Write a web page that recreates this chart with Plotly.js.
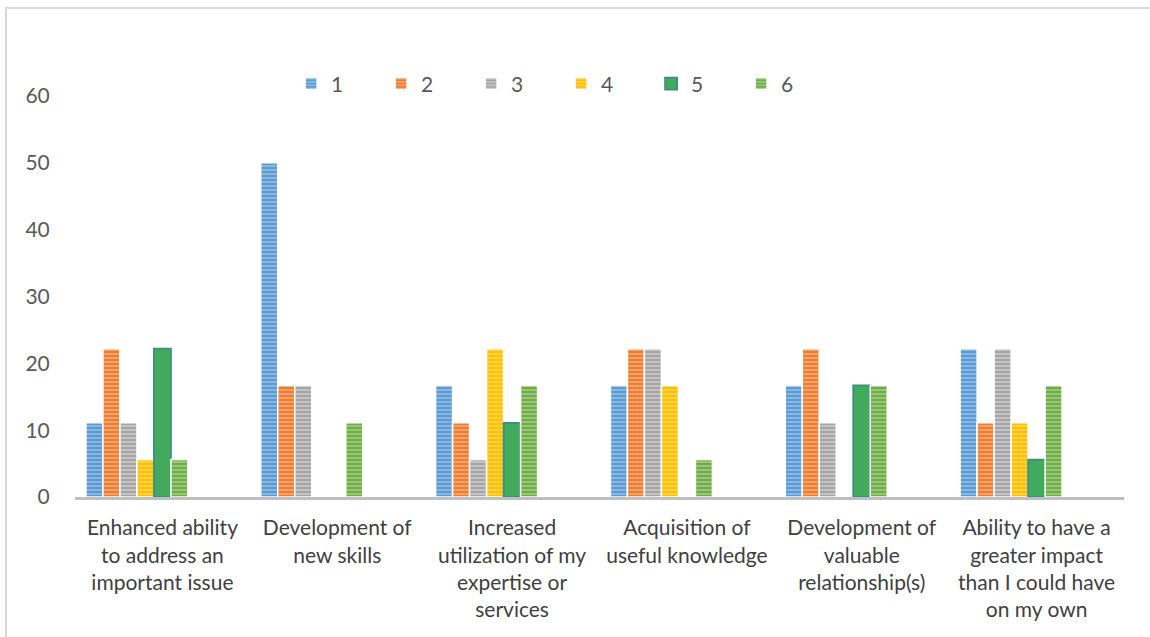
<!DOCTYPE html>
<html><head><meta charset="utf-8">
<script src="https://cdn.plot.ly/plotly-3.0.1.min.js"></script>
<style>
html,body{margin:0;padding:0;background:#fff;}
#wrap{position:relative;width:1150px;height:637px;overflow:hidden;}
#chart{width:1150px;height:637px;}
#frame{position:absolute;left:5px;top:7px;width:1160px;height:650px;border:2px solid #D9D9D9;pointer-events:none;}
</style></head>
<body><div id="wrap"><div id="chart"></div><div id="frame"></div></div>
<script>
const categories = [
  "Enhanced ability<br>to address an<br>important issue",
  "Development of<br>new skills",
  "Increased<br>utilization of my<br>expertise or<br>services",
  "Acquisition of<br>useful knowledge",
  "Development of<br>valuable<br>relationship(s)",
  "Ability to have a<br>greater impact<br>than I could have<br>on my own"
];
const seriesNames = ["1","2","3","4","5","6"];
const s1 = [11.1, 50.0, 16.7, 16.7, 16.7, 22.2];
const s2 = [22.2, 16.7, 11.1, 22.2, 22.2, 11.1];
const s3 = [11.1, 16.7,  5.6, 22.2, 11.1, 22.2];
const s4 = [ 5.6,  0.0, 22.2, 16.7,  0.0, 11.1];
const s5 = [22.2,  0.0, 11.1,  0.0, 16.7,  5.6];
const s6 = [ 5.6, 11.1, 16.7,  5.6, 16.7, 16.7];
const seriesValues = [s1, s2, s3, s4, s5, s6];
const yTicks = [0, 10, 20, 30, 40, 50, 60];

const colors   = ["#5B9BD5","#ED7D31","#A5A5A5","#FFC000","#42AA5C","#70AD47"];
const stripes  = ["#9DC3E6","#F4B183","#D0D0D0","#FFD966", null,     "#A9D18E"];
const lineCols = ["#fff","#fff","#fff","#fff","#3E8E84","#fff"];

const slots = 9, gap = 0.125;
const w = (1 - gap) / slots;
const x = categories.map((c, i) => i);

const traces = seriesValues.map((vals, i) => {
  const t = {
    type: 'bar', name: seriesNames[i], x: x,
    y: vals.map(v => v === 0 ? null : v),
    width: w, offset: -0.5 + gap / 2 + i * w,
    marker: {color: colors[i], line: {color: lineCols[i], width: i === 4 ? 1.8 : 1.5}},
    hoverinfo: 'y'
  };
  if (stripes[i]) t.marker.pattern = {shape: '-', fgcolor: stripes[i], bgcolor: colors[i], size: 4, solidity: 0.35, fillmode: 'replace'};
  return t;
});

const font = "Lato, 'Open Sans', sans-serif";
const layout = {
  width: 1150, height: 637,
  margin: {l: 75, r: 26, t: 96, b: 140},
  paper_bgcolor: '#fff', plot_bgcolor: '#fff',
  showlegend: true,
  legend: {orientation: 'h', x: 0.206, y: 1.03, xanchor: 'left', yanchor: 'middle',
           entrywidth: 45, entrywidthmode: 'pixels',
           font: {family: font, size: 21, color: '#595959'}},
  xaxis: {type: 'linear', range: [-0.5, 5.5], tickmode: 'array', tickvals: x, ticktext: categories,
          showgrid: false, zeroline: false, showline: true, linecolor: '#BFBFBF', linewidth: 3,
          ticks: 'outside', ticklen: 10, tickcolor: 'rgba(0,0,0,0)',
          tickfont: {family: font, size: 21, color: '#404040'}, fixedrange: true},
  yaxis: {range: [0, 60], tickmode: 'array', tickvals: yTicks, ticktext: yTicks.map(String),
          showgrid: false, zeroline: false, showline: false,
          ticks: 'outside', ticklen: 20, tickcolor: 'rgba(0,0,0,0)',
          tickfont: {family: font, size: 21, color: '#595959'}, fixedrange: true}
};
Plotly.newPlot('chart', traces, layout, {displayModeBar: false, staticPlot: true});
</script></body></html>
